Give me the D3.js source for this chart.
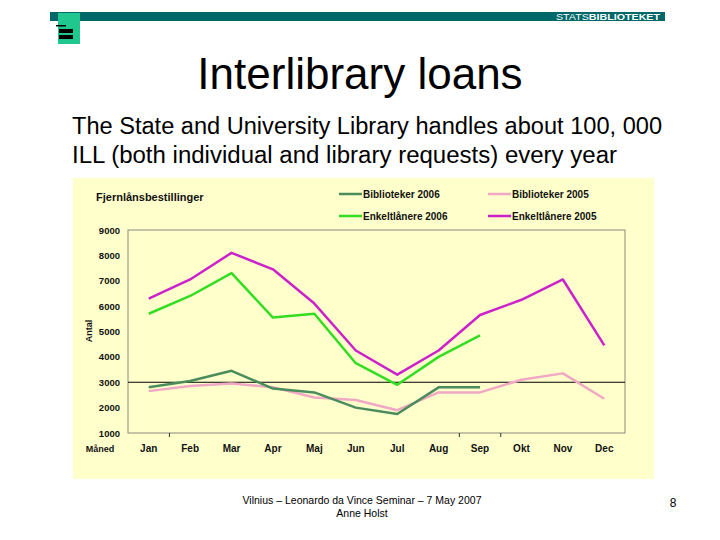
<!DOCTYPE html>
<html><head><meta charset="utf-8">
<script src="https://cdn.jsdelivr.net/npm/d3@7"></script>
<style>body{margin:0;background:#fff;}svg{display:block;font-family:"Liberation Sans",Arial,sans-serif;}</style>
</head><body>
<script>
const months = ["Jan","Feb","Mar","Apr","Maj","Jun","Jul","Aug","Sep","Okt","Nov","Dec"];
const yTicks = [1000,2000,3000,4000,5000,6000,7000,8000,9000];
const bibliotek2006 = [2800,3050,3450,2750,2600,2000,1750,2800,2800];
const enkelt2006 = [5700,6400,7300,5550,5700,3750,2900,4000,4850];
const bibliotek2005 = [2650,2850,2950,2800,2400,2300,1900,2600,2600,3100,3350,2350];
const enkelt2005 = [6300,7050,8100,7450,6100,4250,3300,4250,5650,6250,7050,4450];
const seriesNames = ["Biblioteker 2006","Enkeltlånere 2006","Biblioteker 2005","Enkeltlånere 2005"];
const seriesColors = ["#4a8c5c","#33dd22","#f0a8c4","#cc22cc"];
const seriesData = [bibliotek2006, enkelt2006, bibliotek2005, enkelt2005];

const W=720,H=540;
const svg=d3.select("body").append("svg").attr("width",W).attr("height",H);

// header
svg.append("rect").attr("x",50).attr("y",12).attr("width",615).attr("height",9).attr("fill","#006868");
svg.append("text").attr("x",556).attr("y",20).attr("font-size",9.5).attr("fill","#fff")
  .attr("textLength",104).attr("lengthAdjust","spacingAndGlyphs")
  .html('STATS<tspan font-weight="bold">BIBLIOTEKET</tspan>');
svg.append("rect").attr("x",58).attr("y",13).attr("width",22).attr("height",31).attr("fill","#20c890");
svg.append("rect").attr("x",56).attr("y",25).attr("width",10).attr("height",1.5).attr("fill","#000");
svg.append("rect").attr("x",59).attr("y",29).attr("width",14).attr("height",4).attr("fill","#000");
svg.append("rect").attr("x",59).attr("y",35).attr("width",14).attr("height",4).attr("fill","#000");

// titles
svg.append("text").attr("x",360).attr("y",89).attr("text-anchor","middle").attr("font-size",44).text("Interlibrary loans");
svg.append("text").attr("x",72).attr("y",134).attr("font-size",23.5).attr("textLength",590).attr("lengthAdjust","spacingAndGlyphs")
  .text("The State and University Library handles about 100, 000");
svg.append("text").attr("x",72).attr("y",163).attr("font-size",23.5).attr("textLength",545).attr("lengthAdjust","spacingAndGlyphs")
  .text("ILL (both individual and library requests) every year");

// chart panel
svg.append("rect").attr("x",73).attr("y",178).attr("width",581).attr("height",301).attr("fill","#ffffcc");

const pl=128, pr=625, pt=230, pb=433;
const x=d3.scaleBand().domain(months).range([pl,pr]);
const y=d3.scaleLinear().domain([1000,9000]).range([pb,pt]);

svg.append("rect").attr("x",pl).attr("y",pt).attr("width",pr-pl).attr("height",pb-pt)
  .attr("fill","none").attr("stroke","#8a8a80").attr("stroke-width",1);

// y axis labels
svg.append("g").selectAll("text").data(yTicks).join("text")
  .attr("x",120).attr("y",d=>y(d)+3.5).attr("text-anchor","end").attr("font-size",9.5).attr("font-weight","bold")
  .attr("fill","#111").text(d=>d);
// x axis labels
svg.append("g").selectAll("text").data(months).join("text")
  .attr("x",d=>x(d)+x.bandwidth()/2).attr("y",452).attr("text-anchor","middle").attr("font-size",10).attr("font-weight","bold")
  .attr("fill","#111").text(d=>d);
// some tick marks
[["Jan","Feb"],["Aug","Sep"],["Sep","Okt"]].forEach(p=>{
  const xx=x(p[1]);
  svg.append("line").attr("x1",xx).attr("x2",xx).attr("y1",pb).attr("y2",pb+4).attr("stroke","#333");
});
svg.append("text").attr("x",100).attr("y",452).attr("text-anchor","middle").attr("font-size",9).attr("font-weight","bold").attr("fill","#111").text("Måned");
svg.append("text").attr("transform","translate(92,331) rotate(-90)").attr("text-anchor","middle").attr("font-size",9).attr("font-weight","bold").attr("fill","#111").text("Antal");
svg.append("text").attr("x",96).attr("y",201).attr("font-size",11).attr("font-weight","bold").attr("fill","#111").text("Fjernlånsbestillinger");

// reference line at 3000
svg.append("line").attr("x1",pl).attr("x2",pr).attr("y1",y(3000)).attr("y2",y(3000)).attr("stroke","#000").attr("stroke-width",1);

const line=d3.line().x((d,i)=>x(months[i])+x.bandwidth()/2).y(d=>y(d));
const drawOrder=[2,0,3,1];
drawOrder.forEach(k=>{
  svg.append("path").datum(seriesData[k]).attr("d",line).attr("fill","none")
    .attr("stroke",seriesColors[k]).attr("stroke-width",2.5).attr("stroke-linejoin","round");
});

// legend
const legPos=[[339,194],[339,216],[488,194],[488,216]];
seriesNames.forEach((n,k)=>{
  const [lx,ly]=legPos[k];
  svg.append("line").attr("x1",lx).attr("x2",lx+23).attr("y1",ly).attr("y2",ly).attr("stroke",seriesColors[k]).attr("stroke-width",2.5);
  svg.append("text").attr("x",lx+24).attr("y",ly+3.5).attr("font-size",10).attr("font-weight","bold").attr("fill","#111").text(n);
});

// footer
svg.append("text").attr("x",362).attr("y",504).attr("text-anchor","middle").attr("font-size",10.5).text("Vilnius – Leonardo da Vince Seminar – 7 May 2007");
svg.append("text").attr("x",362).attr("y",517).attr("text-anchor","middle").attr("font-size",10.5).text("Anne Holst");
svg.append("text").attr("x",673).attr("y",507).attr("text-anchor","middle").attr("font-size",12).text("8");
</script>
</body></html>
